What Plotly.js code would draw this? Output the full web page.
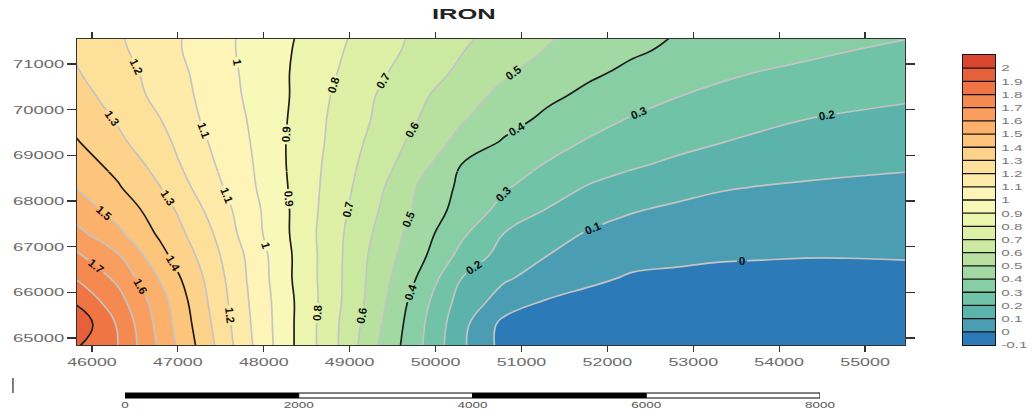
<!DOCTYPE html>
<html>
<head>
<meta charset="utf-8">
<script src="https://cdn.plot.ly/plotly-3.0.1.min.js"></script>
<style>
  html, body { margin: 0; padding: 0; background: #ffffff; }
  #chart { width: 1033px; height: 411px; }
</style>
</head>
<body>
<div id="chart"></div>
<script>
// Grid coordinates (easting / northing, metres)
const eastings = [45800, 46300, 46800, 47300, 47800, 48300, 48800, 49300, 49800, 50300,
                  50800, 51300, 51800, 52300, 52800, 53300, 53800, 54300, 54800, 55500];
const northings = [64800, 65300, 65800, 66300, 66800, 67300, 67800, 68300,
                   68800, 69300, 69800, 70300, 70800, 71300, 71600];

// Iron concentration at each grid node, one row per northing
const iron = [
  [1.91, 1.80, 1.58, 1.36, 1.13, 0.92, 0.73, 0.51, 0.32, 0.12, -0.035, -0.05, -0.065, -0.075, -0.08, -0.083, -0.085, -0.085, -0.083, -0.08],
  [1.98, 1.79, 1.56, 1.34, 1.12, 0.92, 0.73, 0.53, 0.33, 0.13, -0.03, -0.04, -0.055, -0.065, -0.07, -0.072, -0.073, -0.073, -0.07, -0.065],
  [1.89, 1.74, 1.54, 1.32, 1.11, 0.92, 0.74, 0.55, 0.35, 0.16, 0.058, -0.008, -0.033, -0.044, -0.051, -0.055, -0.056, -0.056, -0.053, -0.046],
  [1.80, 1.68, 1.49, 1.30, 1.10, 0.91, 0.74, 0.56, 0.39, 0.20, 0.11, 0.062, 0.018, -0.012, -0.017, -0.023, -0.025, -0.027, -0.025, -0.021],
  [1.72, 1.61, 1.43, 1.27, 1.09, 0.91, 0.74, 0.57, 0.43, 0.27, 0.16, 0.10, 0.05, 0.03, 0.017, 0.009, 0.006, 0.003, 0.003, 0.005],
  [1.63, 1.52, 1.38, 1.24, 1.06, 0.90, 0.74, 0.59, 0.45, 0.32, 0.20, 0.14, 0.091, 0.067, 0.051, 0.041, 0.036, 0.032, 0.030, 0.030],
  [1.56, 1.46, 1.35, 1.20, 1.05, 0.90, 0.75, 0.61, 0.48, 0.36, 0.27, 0.195, 0.145, 0.105, 0.085, 0.073, 0.067, 0.061, 0.058, 0.056],
  [1.50, 1.41, 1.30, 1.16, 1.03, 0.895, 0.76, 0.63, 0.49, 0.38, 0.31, 0.25, 0.19, 0.156, 0.129, 0.107, 0.097, 0.0905, 0.086, 0.081],
  [1.45, 1.37, 1.26, 1.13, 1.02, 0.89, 0.77, 0.65, 0.54, 0.40, 0.35, 0.294, 0.253, 0.212, 0.182, 0.157, 0.139, 0.126, 0.117, 0.109],
  [1.41, 1.32, 1.23, 1.11, 1.01, 0.89, 0.78, 0.67, 0.57, 0.47, 0.39, 0.335, 0.291, 0.263, 0.23, 0.204, 0.182, 0.163, 0.153, 0.143],
  [1.37, 1.29, 1.20, 1.09, 1.00, 0.895, 0.785, 0.69, 0.60, 0.51, 0.44, 0.38, 0.333, 0.293, 0.267, 0.241, 0.221, 0.201, 0.189, 0.177],
  [1.34, 1.26, 1.17, 1.08, 0.99, 0.90, 0.795, 0.70, 0.62, 0.54, 0.475, 0.42, 0.376, 0.34, 0.303, 0.277, 0.258, 0.239, 0.226, 0.211],
  [1.31, 1.24, 1.16, 1.07, 0.985, 0.90, 0.81, 0.72, 0.65, 0.58, 0.51, 0.46, 0.414, 0.379, 0.35, 0.317, 0.295, 0.277, 0.264, 0.246],
  [1.29, 1.22, 1.14, 1.06, 0.98, 0.905, 0.82, 0.745, 0.67, 0.605, 0.548, 0.495, 0.453, 0.412, 0.385, 0.364, 0.343, 0.322, 0.302, 0.284],
  [1.28, 1.21, 1.14, 1.06, 0.98, 0.91, 0.83, 0.75, 0.68, 0.62, 0.56, 0.51, 0.47, 0.43, 0.396, 0.379, 0.362, 0.345, 0.328, 0.304]
];

// Contour levels and the colour of each band (below 0, 0-0.1, ..., 1.9-2, above 2)
const levels = [0, 0.1, 0.2, 0.3, 0.4, 0.5, 0.6, 0.7, 0.8, 0.9, 1.0,
                1.1, 1.2, 1.3, 1.4, 1.5, 1.6, 1.7, 1.8, 1.9, 2.0];
const bandColors = ['#2c7bb8', '#4b9db3', '#5bb3ab', '#70c3a6', '#88cea4', '#a2d8a2',
                    '#b8e1a0', '#cce9a1', '#def0a5', '#ebf5ad', '#f8f8b8', '#fef4b8',
                    '#feeba9', '#fde09a', '#fdd38b', '#fdc47c', '#fbb16c', '#f99e5e',
                    '#f58a50', '#ef7545', '#e6603c', '#d9452f'];
const majorLevels = [0.4, 0.9, 1.4, 1.9];

// Axis ticks
const xTicks = [46000, 47000, 48000, 49000, 50000, 51000, 52000, 53000, 54000, 55000];
const yTicks = [65000, 66000, 67000, 68000, 69000, 70000, 71000];
const legendTicks = [-0.1, 0, 0.1, 0.2, 0.3, 0.4, 0.5, 0.6, 0.7, 0.8, 0.9, 1.0,
                     1.1, 1.2, 1.3, 1.4, 1.5, 1.6, 1.7, 1.8, 1.9, 2.0];
const legendLabels = ['-0.1', '0', '0.1', '0.2', '0.3', '0.4', '0.5', '0.6', '0.7', '0.8', '0.9', '1',
                      '1.1', '1.2', '1.3', '1.4', '1.5', '1.6', '1.7', '1.8', '1.9', '2'];

// Scale bar (metres)
const scaleStops = [0, 2000, 4000, 6000, 8000];
const scaleLabels = ['0', '2000', '4000', '6000', '8000'];

// Map window
const xRange = [45826, 55465];
const yRange = [64847, 71547];
const yDomain = [0.173, 1];
// contour lines are drawn in two stacked panes so each line gets a label in both halves
const labelSplit = 68650;

const step = levels[1] - levels[0];
const nBands = bandColors.length;

// Stepped colour scale: band k sits exactly on stop k
const fillScale = bandColors.map((c, k) => [k / (nBands - 1), c]);

// Line colours: major levels dark, the rest light grey
const lineLevels = levels.slice(0, -1);
const isMajor = v => majorLevels.some(m => Math.abs(m - v) < 1e-9);
const lineScale = lineLevels.map((v, k) => [k / (lineLevels.length - 1),
                                           isMajor(v) ? '#1e1e1e' : 'rgb(196,196,196)']);

const smooth = 1.3;

const fillTrace = {
  type: 'contour', x: eastings, y: northings, z: iron,
  autocontour: false,
  contours: { start: levels[0], end: levels[levels.length - 1], size: step,
              coloring: 'fill', showlines: false },
  colorscale: fillScale, showscale: false,
  line: { width: 0, smoothing: smooth },
  hoverinfo: 'skip'
};

const makeLineTrace = (xa, ya) => ({
  type: 'contour', x: eastings, y: northings, z: iron,
  xaxis: xa, yaxis: ya,
  autocontour: false,
  contours: { start: lineLevels[0], end: lineLevels[lineLevels.length - 1], size: step,
              coloring: 'lines', showlabels: true, labelformat: '.1~f',
              labelfont: { family: 'Liberation Sans, Arial', size: 11.5, color: '#111111', weight: 'bold' } },
  colorscale: lineScale, showscale: false,
  line: { width: 1.7, smoothing: smooth },
  hoverinfo: 'skip'
});

// Legend bar: one cell per band, centred between its edges
const bandEdges = [legendTicks[0]].concat(levels).concat([levels[levels.length - 1] + step]);
const bandCentres = bandEdges.slice(0, -1).map((v, i) => (v + bandEdges[i + 1]) / 2);
const legendTrace = {
  type: 'heatmap', x: [0], y: bandCentres, z: bandCentres.map((_, i) => [i]),
  zmin: 0, zmax: nBands - 1, colorscale: fillScale, showscale: false,
  xaxis: 'x2', yaxis: 'y2', hoverinfo: 'skip'
};

const scaleTrace = {
  type: 'scatter', mode: 'none', x: scaleStops, y: scaleStops.map(() => 0),
  xaxis: 'x3', yaxis: 'y3', hoverinfo: 'skip', showlegend: false
};

const tickFont = { family: 'Liberation Sans, Arial', size: 11.5, color: '#6b6b6b' };

const shapes = [];
// separators inside the legend bar
levels.forEach(v => shapes.push({
  type: 'line', xref: 'x2 domain', x0: 0, x1: 1, yref: 'y2', y0: v, y1: v,
  line: { color: '#151515', width: 1.3 }
}));
// alternating scale-bar blocks
scaleStops.slice(0, -1).forEach((s, i) => shapes.push({
  type: 'rect', xref: 'x3', x0: s, x1: scaleStops[i + 1], yref: 'y3 domain', y0: 0, y1: 1,
  fillcolor: i % 2 === 0 ? '#000000' : '#ffffff', line: { color: '#000000', width: 1 }
}));
// small mark at the lower left
shapes.push({ type: 'line', xref: 'paper', yref: 'paper', x0: -0.067, x1: -0.067, y0: 0.0432, y1: 0.0838,
              line: { color: '#555555', width: 1.5 } });

const splitFrac = yDomain[0] + (yDomain[1] - yDomain[0]) * (labelSplit - yRange[0]) / (yRange[1] - yRange[0]);
const hiddenAxis = { visible: false, showgrid: false, zeroline: false, fixedrange: true };

const layout = {
  width: 1033, height: 411,
  margin: { l: 77, r: 0, t: 39, b: 2 },
  paper_bgcolor: '#ffffff', plot_bgcolor: 'rgba(0,0,0,0)',
  showlegend: false,
  title: { text: 'IRON', xref: 'container', yref: 'container', x: 0.449, y: 0.966,
           xanchor: 'center', yanchor: 'middle',
           font: { family: 'Liberation Sans, Arial', size: 15, color: '#222222', weight: 'bold' } },
  xaxis: {
    domain: [0, 0.8661], range: xRange, anchor: 'y',
    tickvals: xTicks, ticktext: xTicks.map(String),
    ticks: 'outside', ticklen: 6, tickwidth: 1.2, tickcolor: '#333333',
    showline: true, linecolor: '#333333', linewidth: 1.5, mirror: 'ticks',
    showgrid: false, zeroline: false, tickfont: tickFont, automargin: false
  },
  yaxis: {
    domain: yDomain, range: yRange, anchor: 'x',
    tickvals: yTicks, ticktext: yTicks.map(String),
    ticks: 'outside', ticklen: 9, tickwidth: 1.2, tickcolor: '#333333',
    showline: true, linecolor: '#333333', linewidth: 1.5, mirror: 'ticks',
    showgrid: false, zeroline: false, tickfont: tickFont, automargin: false
  },
  xaxis4: Object.assign({ domain: [0, 0.8661], range: xRange, anchor: 'y4' }, hiddenAxis),
  yaxis4: Object.assign({ domain: [yDomain[0], splitFrac], range: [yRange[0], labelSplit], anchor: 'x4' }, hiddenAxis),
  xaxis5: Object.assign({ domain: [0, 0.8661], range: xRange, anchor: 'y5' }, hiddenAxis),
  yaxis5: Object.assign({ domain: [splitFrac, yDomain[1]], range: [labelSplit, yRange[1]], anchor: 'x5' }, hiddenAxis),
  xaxis2: {
    domain: [0.9268, 0.9603], range: [-0.5, 0.5], anchor: 'y2',
    showticklabels: false, ticks: '', showgrid: false, zeroline: false,
    showline: true, mirror: true, linecolor: '#151515', linewidth: 1.3
  },
  yaxis2: {
    domain: [0.173, 0.9568], range: [bandEdges[0], bandEdges[bandEdges.length - 1]],
    anchor: 'x2', side: 'right',
    tickvals: legendTicks, ticktext: legendLabels, ticks: '', ticklabelstandoff: 3,
    showgrid: false, zeroline: false,
    showline: true, mirror: true, linecolor: '#151515', linewidth: 1.3,
    tickfont: { family: 'Liberation Sans, Arial', size: 9.5, color: '#7a7a7a' }
  },
  xaxis3: {
    domain: [0.0502, 0.7772], range: [scaleStops[0], scaleStops[scaleStops.length - 1]],
    anchor: 'y3', tickvals: scaleStops, ticktext: scaleLabels, ticks: '',
    showline: false, showgrid: false, zeroline: false,
    tickfont: { family: 'Liberation Sans, Arial', size: 9, color: '#555555' }
  },
  yaxis3: { domain: [0.0297, 0.0432], range: [0, 1], anchor: 'x3', visible: false },
  shapes: shapes
};

const data = [fillTrace, makeLineTrace('x4', 'y4'), makeLineTrace('x5', 'y5'), legendTrace, scaleTrace];

Plotly.newPlot('chart', data, layout, { staticPlot: true, displayModeBar: false }).then(gd => {
  // the lettering on this sheet is drawn wide; widen the texts to suit
  const widen = (sel, k) => gd.querySelectorAll(sel).forEach(t => {
    const w = t.getComputedTextLength();
    if (w > 0) {
      t.setAttribute('textLength', (w * k).toFixed(1));
      t.setAttribute('lengthAdjust', 'spacingAndGlyphs');
    }
  });
  widen('g.xtick text', 1.55);
  widen('g.ytick text', 1.6);
  widen('g.y2tick text', 1.6);
  widen('g.x3tick text', 1.5);
  widen('text.gtitle', 1.7);
});
</script>
</body>
</html>
